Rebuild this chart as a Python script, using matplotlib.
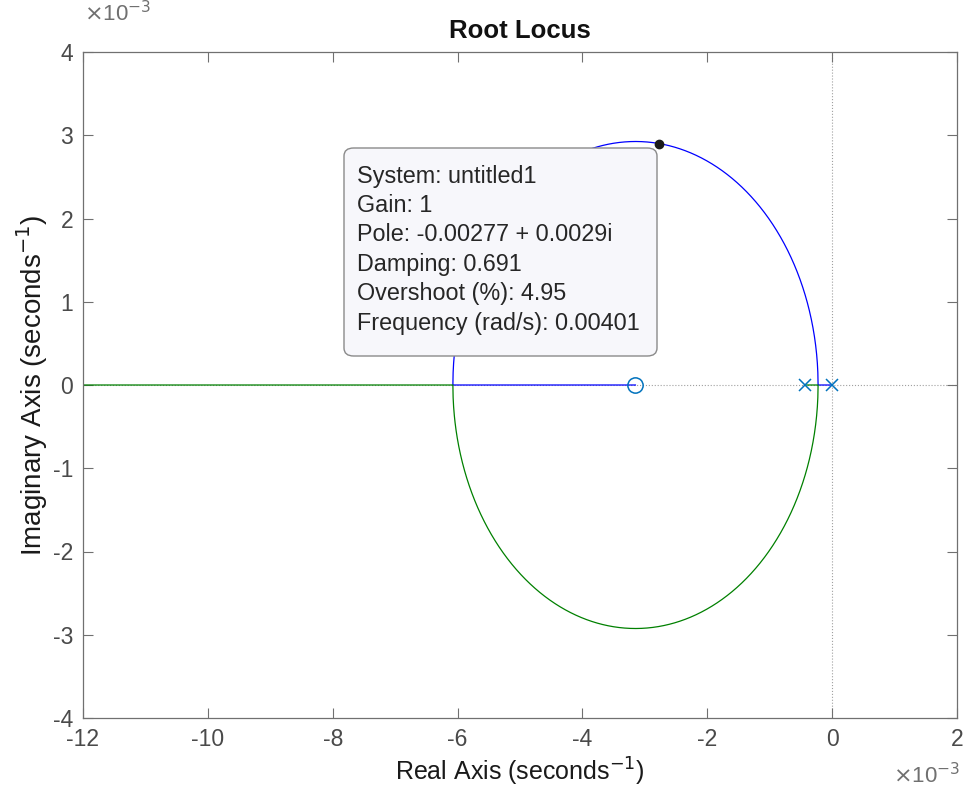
import matplotlib.pyplot as plt
import numpy as np
from matplotlib.patches import FancyBboxPatch
from matplotlib.ticker import FuncFormatter

plt.rcParams['font.family'] = ['Liberation Sans', 'DejaVu Sans']

# open-loop system: K0 * (s + z) / (s (s + p))
poles = np.array([0.0, -0.434e-3])
zeros = np.array([-3.15e-3])
loop_gain = 5.106e-3

# data tip at gain 1
tip_gain = 1.0
tip_pole = complex(-0.00277, 0.0029)
tip_lines = [
    "System: untitled1",
    "Gain: 1",
    "Pole: -0.00277 + 0.0029i",
    "Damping: 0.691",
    "Overshoot (%): 4.95",
    "Frequency (rad/s): 0.00401",
]

xticks = [-12, -10, -8, -6, -4, -2, 0, 2]
yticks = [-4, -3, -2, -1, 0, 1, 2, 3, 4]

GREY = '#4a4a4a'


def locus(num, den, gains):
    # closed-loop roots den + k*num for every gain, split into two branches
    upper, lower = [], []
    for k in gains:
        r = np.roots(np.polyadd(den, k * num))
        r = sorted(r, key=lambda c: (round(c.imag, 12), c.real))
        lower.append(r[0])
        upper.append(r[1])
    return np.array(upper), np.array(lower)


num = loop_gain * np.poly(zeros)
den = np.poly(poles)

p, z = -poles[1], -zeros[0]
a0 = (2 * z - p) - 2 * np.sqrt(z * (z - p))
a1 = (2 * z - p) + 2 * np.sqrt(z * (z - p))
gains = np.concatenate([np.linspace(0, a0, 200), np.linspace(a0, a1, 1500),
                        np.geomspace(a1, 10.0, 800)]) / loop_gain
gains = np.unique(np.concatenate([gains, [a0 / loop_gain, a1 / loop_gain]]))
branch_a, branch_b = locus(num, den, gains)

fig = plt.figure(figsize=(9.65, 8), dpi=100)
ax = fig.add_axes([0.086, 0.1025, 0.9057, 0.8325])

ax.axhline(0, color='#a0a0a0', lw=0.8, ls=':', zorder=1)
ax.axvline(0, color='#a0a0a0', lw=0.8, ls=':', zorder=1)

ax.plot(branch_a.real, branch_a.imag, color='#0000ff', lw=0.9, zorder=2)
ax.plot(branch_b.real, branch_b.imag, color='#008000', lw=0.9, zorder=2)

ax.plot(poles.real, np.zeros_like(poles), 'x', color='#0072BD', ms=8, mew=1.1, zorder=3)
ax.plot(zeros.real, np.zeros_like(zeros), 'o', mfc='none', mec='#0072BD', ms=11, mew=1.1, zorder=3)

ax.plot(tip_pole.real, tip_pole.imag, 'o', color='#1a1a1a', ms=6, zorder=5)

ax.set_xlim(-12e-3, 2e-3)
ax.set_ylim(-4e-3, 4e-3)
ax.set_xticks(np.array(xticks) * 1e-3)
ax.set_yticks(np.array(yticks) * 1e-3)
fmt = FuncFormatter(lambda v, pos: f"{v * 1e3:g}")
ax.xaxis.set_major_formatter(fmt)
ax.yaxis.set_major_formatter(fmt)
ax.tick_params(direction='in', length=7, width=0.8, colors='#707070', labelcolor=GREY,
               labelsize=16.5, top=True, right=True, pad=7)
for s in ax.spines.values():
    s.set_color('#707070')
    s.set_linewidth(0.9)

ax.set_title('Root Locus', fontsize=18.5, fontweight='bold', color='#111111', pad=10)
ax.set_xlabel('Real Axis (seconds$^{-1}$)', fontsize=18, color='#1a1a1a', labelpad=4)
ax.set_ylabel('Imaginary Axis (seconds$^{-1}$)', fontsize=20, color='#1a1a1a', labelpad=2)

fig.text(84 / 965, 1 - 14 / 800, r'$\times$10$^{-3}$', fontsize=16, color='#707070', va='center')
fig.text(960 / 965, 1 - 776 / 800, r'$\times$10$^{-3}$', fontsize=16, color='#707070',
         va='center', ha='right')

# data tip box
W, H = 965, 800
box = FancyBboxPatch((344 / W, 1 - 356 / H), 313 / W, 208 / H,
                     boxstyle='round,pad=0,rounding_size=0.01',
                     transform=fig.transFigure, fc='#f7f7fb', ec='#8a8a8a', lw=1.0, zorder=6)
fig.add_artist(box)
for i, line in enumerate(tip_lines):
    fig.text(357 / W, 1 - (176 + i * 29.4) / H, line, fontsize=16.8, color='#262626',
             va='center', ha='left', zorder=7)

fig.savefig('out.png', dpi=100)
